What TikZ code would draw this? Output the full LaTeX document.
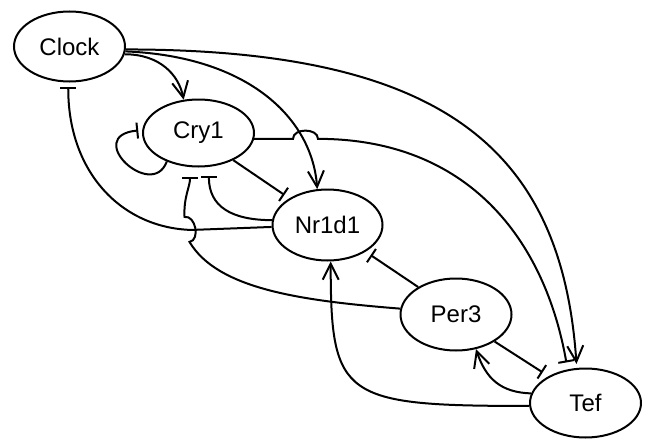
\documentclass[tikz,border=0pt]{standalone}
\usepackage{fontspec}
\setmainfont{Liberation Sans}
\usetikzlibrary{arrows.meta,shapes.geometric}
\begin{document}
\begin{tikzpicture}[x=1pt,y=-1pt,
  gene/.style={ellipse,draw,line width=2pt,inner sep=0pt,minimum width=111pt,minimum height=70pt,font=\fontsize{24}{28}\selectfont},
  act/.style={line width=2pt,-{Straight Barb[length=16pt,width=16pt]}},
  inh/.style={line width=2pt,-{Bar[width=16pt]},shorten >=6pt}]
\useasboundingbox (0,0) rectangle (645,439);
\node[gene] (Clock) at (69.5,46.5) {Clock};
\node[gene,minimum height=67pt] (Cry1) at (198.5,133) {Cry1};
\node[gene,minimum width=110pt,minimum height=71pt] (Nr1d1) at (327.5,225) {Nr1d1};
\node[gene,minimum width=111pt,minimum height=72pt] (Per3) at (456,314.5) {Per3};
\node[gene,minimum height=69pt] (Tef) at (585.5,403) {Tef};
% activations
\draw[act] (Clock.-8) .. controls +(35,0) and +(-5,-25) .. (Cry1.114);
\draw[act] (Clock.-5.5) .. controls +(124,5) and +(-5,-70) .. (Nr1d1.106);
\draw[act,shorten >=4pt] (Clock.-3) .. controls +(316,0) and +(-15,-220) .. (Tef.104);
\draw[act] (Tef.170) .. controls +(-30,-1) and +(10,30) .. (Per3.-60);
\draw[act] (Tef.183) .. controls +(-187,0) and +(0,137) .. (Nr1d1.-85);
% inhibitions
\draw[inh,shorten >=7pt] (Cry1.-6) -- ++(38.8,0) .. controls +(0,-11) and +(0,-11) .. ++(25,0) .. controls +(150,0) and +(-23,-130) .. (Tef.118);
\draw[inh,shorten >=4pt] (Cry1.222) .. controls +(-15,40) and +(-60,6) .. (Cry1.177);
\draw[inh] (Cry1.-38) -- (Nr1d1.145);
\draw[inh,shorten >=9pt] (Nr1d1.175) .. controls +(-40,0) and +(0,40) .. (Cry1.-73);
\draw[inh,shorten >=5pt] (Nr1d1.182) -- ++(-80,3) .. controls +(-70,-2) and +(0,90) .. (Clock.268);
\draw[inh,shorten >=10pt] (Per3.174) .. controls +(-100,-8) and +(28,47) .. ++(-210.7,-66.7) .. controls +(11,-2) and +(11,-2) .. ++(-5,-25) .. controls +(-1,-20) and +(0,20) .. (Cry1.-104);
\draw[inh] (Per3.144) -- (Nr1d1.-35.5);
\draw[inh,shorten >=7pt] (Per3.-35) -- (Tef.144.5);
\end{tikzpicture}
\end{document}
